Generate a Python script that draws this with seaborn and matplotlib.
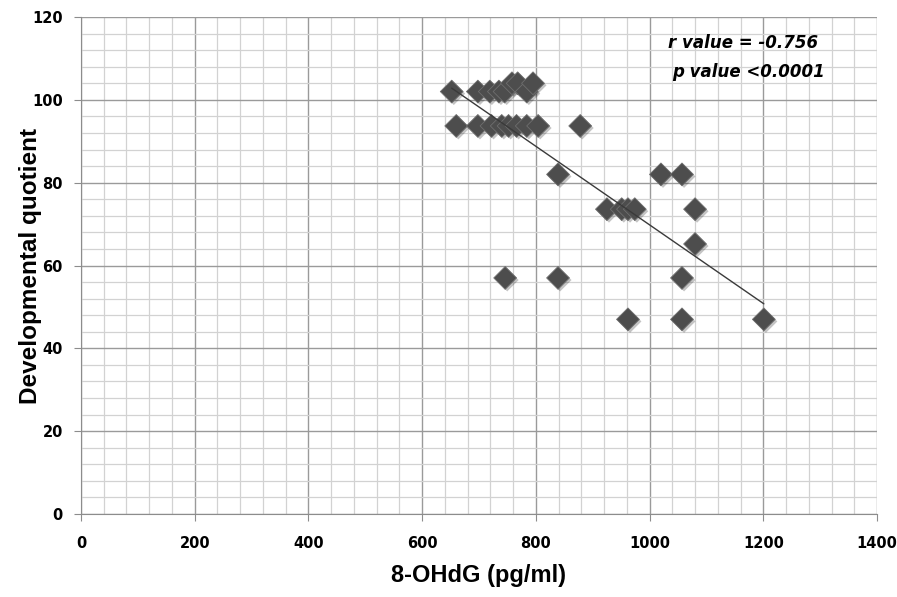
import seaborn as sns
import matplotlib.pyplot as plt
import matplotlib.patheffects as pe
import pandas as pd
from matplotlib.ticker import MultipleLocator

# values
ohdg = [652, 698, 719, 735, 745, 758, 768, 784, 795,
        660, 698, 722, 740, 752, 766, 784, 804, 878,
        839, 1020, 1057,
        925, 951, 962, 974, 1080,
        1080,
        746, 839, 1057,
        962, 1057, 1201]
dq = [102, 102, 102, 102, 102, 104, 104, 102, 104,
      93.7, 93.7, 93.7, 93.7, 93.7, 93.7, 93.7, 93.7, 93.7,
      82, 82, 82,
      73.6, 73.6, 73.6, 73.6, 73.6,
      65.2,
      57, 57, 57,
      47, 47, 47]

x_ticks = [0, 200, 400, 600, 800, 1000, 1200, 1400]
y_ticks = [0, 20, 40, 60, 80, 100, 120]


def main():
    data = pd.DataFrame({"8-OHdG": ohdg, "DQ": dq})

    sns.set_style("white")
    plt.rcParams['font.family'] = ['DejaVu Sans']
    fig = plt.figure(figsize=(8.97, 5.97), dpi=100)
    ax = fig.add_axes([0.0903, 0.139, 0.8874, 0.8325])

    ax.set_xlim(0, 1400)
    ax.set_ylim(0, 120)
    ax.set_xticks(x_ticks)
    ax.set_yticks(y_ticks)
    ax.xaxis.set_minor_locator(MultipleLocator(40))
    ax.yaxis.set_minor_locator(MultipleLocator(4))
    ax.grid(which="minor", color="#d2d2d2", linewidth=0.9)
    ax.grid(which="major", color="#9a9a9a", linewidth=1.0)
    ax.set_axisbelow(True)

    sns.regplot(x="8-OHdG", y="DQ", data=data, ax=ax, ci=None, marker="D",
                scatter_kws={"s": 135, "color": "#4d4d4d", "edgecolor": "#6e6e6e",
                             "linewidths": 0.6, "alpha": 1, "zorder": 3,
                             "path_effects": [pe.SimplePatchShadow(offset=(1.5, -1.5), alpha=0.25),
                                              pe.Normal()]},
                line_kws={"color": "#3a3a3a", "linewidth": 1.0, "zorder": 4})

    for side in ["top", "right"]:
        ax.spines[side].set_visible(False)
    for side in ["left", "bottom"]:
        ax.spines[side].set_color("#8c8c8c")

    ax.tick_params(axis="both", which="major", length=5, color="#8c8c8c",
                   direction="out", bottom=True, left=True, labelsize=10.5,
                   labelcolor="black")
    ax.tick_params(axis="x", pad=11)
    ax.tick_params(axis="y", pad=8)
    for lab in ax.get_xticklabels() + ax.get_yticklabels():
        lab.set_fontweight("bold")

    ax.set_xlabel("8-OHdG (pg/ml)", fontsize=17, fontweight="bold", color="black",
                  family="Liberation Sans")
    ax.set_ylabel("Developmental quotient", fontsize=17.5, fontweight="bold", color="black",
                  family="Liberation Sans")
    ax.xaxis.set_label_coords(0.5, -0.1)
    ax.yaxis.set_label_coords(-0.049, 0.5)

    ax.text(1032, 113.7, "r value = -0.756", fontsize=12, fontweight="bold",
            style="italic", va="center", color="black")
    ax.text(1040, 106.7, "p value <0.0001", fontsize=12, fontweight="bold",
            style="italic", va="center", color="black")

    fig.savefig("out.png", dpi=100)


if __name__ == "__main__":
    main()
